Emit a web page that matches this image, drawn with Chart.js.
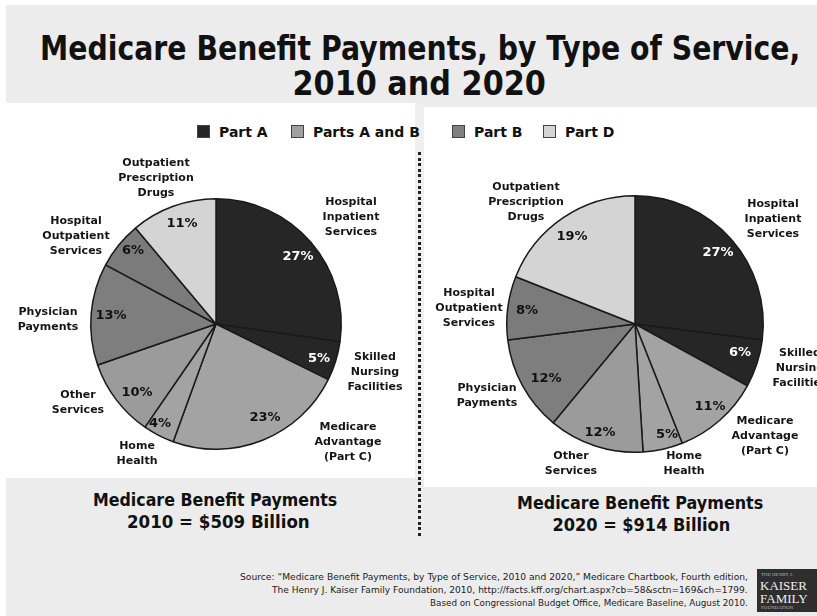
<!DOCTYPE html>
<html>
<head>
<meta charset="utf-8">
<script src="https://cdn.jsdelivr.net/npm/chart.js@4/dist/chart.umd.min.js"></script>
<style>
  html,body{margin:0;padding:0;}
  body{width:817px;height:616px;position:relative;overflow:hidden;background:#ffffff;font-family:"DejaVu Sans",sans-serif;}
  .abs{position:absolute;white-space:nowrap;}
  .t{font-weight:bold;color:#111;line-height:1;}
  canvas{position:absolute;left:0;top:0;}
</style>
</head>
<body>
<script>
// ---------- DATA ----------
const categories = [
  ["Hospital","Inpatient","Services"],
  ["Skilled","Nursing","Facilities"],
  ["Medicare","Advantage","(Part C)"],
  ["Home","Health"],
  ["Other","Services"],
  ["Physician","Payments"],
  ["Hospital","Outpatient","Services"],
  ["Outpatient","Prescription","Drugs"]
];
const values2010 = [27, 5, 23, 4, 10, 13, 6, 11];
const values2020 = [27, 6, 11, 5, 12, 12, 8, 19];
const payerOfCategory = ["Part A","Part A","Parts A and B","Parts A and B","Part B","Part B","Part B","Part D"];
const legendLabels = ["Part A","Parts A and B","Part B","Part D"];
const titleLines = ["Medicare Benefit Payments, by Type of Service,","2010 and 2020"];
const caption2010 = ["Medicare Benefit Payments","2010 = $509 Billion"];
const caption2020 = ["Medicare Benefit Payments","2020 = $914 Billion"];
const sourceLines = [
  "Source: \u201cMedicare Benefit Payments, by Type of Service, 2010 and 2020,\u201d Medicare Chartbook, Fourth edition,",
  "The Henry J. Kaiser Family Foundation, 2010, http://facts.kff.org/chart.aspx?cb=58&sctn=169&ch=1799.",
  "Based on Congressional Budget Office, Medicare Baseline, August 2010."
];
</script>

<!-- backgrounds -->
<div class="abs" style="left:6px;top:5px;width:811px;height:98px;background:#ececec;"></div>
<div class="abs" style="left:6px;top:103px;width:409px;height:375px;background:#ffffff;"></div>
<div class="abs" style="left:415px;top:103px;width:9px;height:384px;background:#efefef;"></div>
<div class="abs" style="left:424px;top:103px;width:393px;height:4px;background:#ececec;"></div>
<div class="abs" style="left:6px;top:478px;width:811px;height:138px;background:#ececec;"></div>
<div class="abs" style="left:424px;top:478px;width:393px;height:9px;background:#ffffff;"></div>
<div class="abs" style="left:418px;top:152px;width:3px;height:386px;background:repeating-linear-gradient(to bottom,#222 0px,#222 3px,transparent 3px,transparent 5.6px);"></div>

<div id="texts"></div>

<div class="abs" style="left:757px;top:569px;width:62px;height:43px;background:#2e2e2e;overflow:hidden;">
  <div style="position:absolute;left:4px;top:3px;font:5px 'Liberation Serif',serif;color:#bbb;">THE HENRY J.</div>
  <div style="position:absolute;left:3px;top:10px;font:13px 'Liberation Serif',serif;color:#eee;line-height:1;">KAISER</div>
  <div style="position:absolute;left:3px;top:23px;font:13px 'Liberation Serif',serif;color:#eee;line-height:1;">FAMILY</div>
  <div style="position:absolute;left:4px;top:36px;font:5px 'Liberation Serif',serif;color:#bbb;">FOUNDATION</div>
</div>

<canvas id="c2010" width="817" height="616"></canvas>
<canvas id="c2020" width="817" height="616"></canvas>

<script>
// ---------- STYLE ----------
const legendColors = {"Part A":"#262626","Parts A and B":"#a0a0a0","Part B":"#808080","Part D":"#d4d4d4"};
const sliceColors = ["#262626","#262626","#a3a3a3","#a3a3a3","#9b9b9b","#7e7e7e","#7b7b7b","#d4d4d4"];
const pctColors = ["#ffffff","#ffffff","#111","#111","#111","#111","#111","#111"];

const container = document.getElementById('texts');
function addText(txt, opt){
  const d = document.createElement('div');
  d.className = 'abs t';
  d.textContent = txt;
  d.style.fontSize = opt.fs + 'px';
  if (opt.weight) d.style.fontWeight = opt.weight;
  if (opt.color) d.style.color = opt.color;
  d.style.top = (opt.baseline - 0.846*opt.fs) + 'px';
  container.appendChild(d);
  const w = d.offsetWidth;
  const s = opt.width ? opt.width / w : 1;
  if (opt.align === 'right') {
    d.style.right = (817 - opt.x) + 'px';
    d.style.transformOrigin = 'right center';
    d.style.transform = `scaleX(${s})`;
  } else if (opt.align === 'left') {
    d.style.left = opt.x + 'px';
    d.style.transformOrigin = 'left center';
    d.style.transform = `scaleX(${s})`;
  } else {
    d.style.left = (opt.x - w/2) + 'px';
    d.style.transformOrigin = 'center center';
    d.style.transform = `scaleX(${s})`;
  }
  return d;
}

// title
addText(titleLines[0], {fs:34, baseline:60, x:420, width:760});
addText(titleLines[1], {fs:34, baseline:95, x:419, width:253});
// captions
addText(caption2010[0], {fs:17, baseline:506, x:215, width:244});
addText(caption2010[1], {fs:17, baseline:528, x:218, width:183});
addText(caption2020[0], {fs:17, baseline:509, x:640, width:246});
addText(caption2020[1], {fs:17, baseline:531, x:641, width:178});
// source
addText(sourceLines[0], {fs:9, baseline:581, x:748, width:508, align:'right', weight:'normal', color:'#222'});
addText(sourceLines[1], {fs:9, baseline:594, x:748, width:476, align:'right', weight:'normal', color:'#222'});
addText(sourceLines[2], {fs:9, baseline:607, x:748, width:318, align:'right', weight:'normal', color:'#222'});

// legend
const legendPos = [197, 291, 452, 543];
legendLabels.forEach((lab, i) => {
  const sq = document.createElement('div');
  sq.className = 'abs';
  sq.style.left = legendPos[i] + 'px';
  sq.style.top = '125px';
  sq.style.width = '11px';
  sq.style.height = '11px';
  sq.style.background = legendColors[lab];
  sq.style.border = '1px solid #444';
  container.appendChild(sq);
  addText(lab, {fs:14, baseline:137, x:legendPos[i] + 22, align:'left'});
});

// ---------- CHARTS ----------
const sliceText = {
  id: 'sliceText',
  afterDatasetsDraw(chart, args, opts) {
    const ctx = chart.ctx;
    const meta = chart.getDatasetMeta(0);
    const cx = meta.data[0].x, cy = meta.data[0].y;
    const ds = chart.data.datasets[0];
    ctx.save();
    ctx.textAlign = 'center';
    ctx.textBaseline = 'middle';
    meta.data.forEach((arc, i) => {
      ctx.font = 'bold 13px "DejaVu Sans"';
      ctx.fillStyle = opts.pctColors[i];
      const [px, py] = opts.pctOffsets[i];
      ctx.fillText(ds.data[i] + '%', cx + px, cy + py);
      ctx.font = 'bold 11px "DejaVu Sans"';
      ctx.fillStyle = '#151515';
      const lines = chart.data.labels[i];
      const [lx, ly] = opts.labelOffsets[i];
      const n = lines.length;
      lines.forEach((ln, k) => ctx.fillText(ln, cx + lx, cy + ly + (k - (n - 1) / 2) * 15));
    });
    ctx.restore();
  }
};

function makePie(id, values, pad, pctOffsets, labelOffsets) {
  return new Chart(document.getElementById(id), {
    type: 'pie',
    data: {
      labels: categories,
      datasets: [{
        data: values,
        backgroundColor: sliceColors,
        borderColor: '#1a1a1a',
        borderWidth: 1.5
      }]
    },
    options: {
      responsive: false,
      animation: false,
      layout: { padding: pad },
      plugins: {
        legend: { display: false },
        tooltip: { enabled: false },
        sliceText: { pctColors, pctOffsets, labelOffsets }
      }
    },
    plugins: [sliceText]
  });
}

makePie('c2010', values2010,
  {left:90, top:198, right:475, bottom:166},
  [[82,-67],[103,35],[49,94],[-56,100],[-79,69],[-105,-8],[-83,-73],[-34,-100]],
  [[135,-107],[159,48],[132,118],[-79,130],[-138,79],[-168,-4],[-140,-88],[-60,-146]]
);
makePie('c2020', values2020,
  {left:506, top:195, right:53, bottom:163},
  [[83,-71],[105,29],[75,83],[32,111],[-35,109],[-89,55],[-108,-13],[-63,-87]],
  [[138,-105],[165,44],[130,112],[49,140],[-64,140],[-148,72],[-166,-16],[-109,-122]]
);
</script>
</body>
</html>
